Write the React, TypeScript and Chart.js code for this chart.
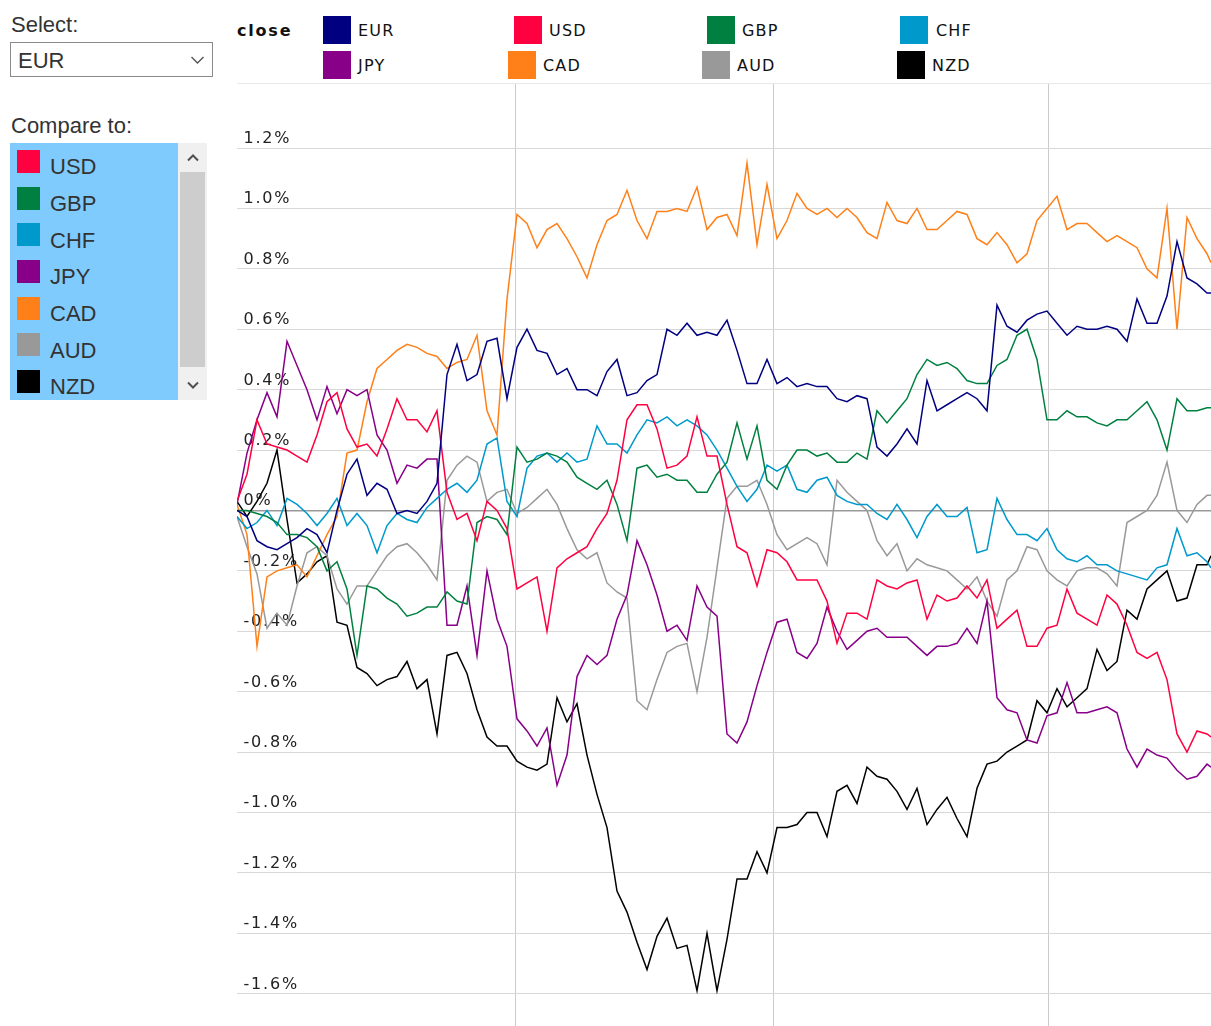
import React, { useEffect, useRef } from "react";
import { Chart, registerables } from "chart.js";

Chart.register(...registerables);

// ---------- data ----------
const timeSteps = [
  0, 10, 20, 30, 40, 50, 60, 70, 80, 90,
  100, 110, 120, 130, 140, 150, 160, 170, 180, 190,
  200, 210, 220, 230, 240, 250, 260, 270, 280, 290,
  300, 310, 320, 330, 340, 350, 360, 370, 380, 390,
  400, 410, 420, 430, 440, 450, 460, 470, 480, 490,
  500, 510, 520, 530, 540, 550, 560, 570, 580, 590,
  600, 610, 620, 630, 640, 650, 660, 670, 680, 690,
  700, 710, 720, 730, 740, 750, 760, 770, 780, 790,
  800, 810, 820, 830, 840, 850, 860, 870, 880, 890,
  900, 910, 920, 930, 940, 950, 960, 970, 974,
];

const eurValues = [
  0.0, -0.02, -0.1, -0.12, -0.13, -0.11, -0.09, -0.06, -0.08, -0.14,
  0.0, 0.12, 0.17, 0.05, 0.09, 0.07, -0.01, 0.0, -0.01, 0.03,
  0.09, 0.45, 0.55, 0.43, 0.45, 0.56, 0.57, 0.37, 0.54, 0.6,
  0.53, 0.52, 0.45, 0.47, 0.4, 0.4, 0.38, 0.46, 0.5, 0.38,
  0.39, 0.43, 0.45, 0.6, 0.58, 0.62, 0.58, 0.59, 0.58, 0.63,
  0.53, 0.42, 0.42, 0.5, 0.42, 0.44, 0.41, 0.42, 0.41, 0.41,
  0.37, 0.36, 0.38, 0.37, 0.21, 0.18, 0.22, 0.27, 0.22, 0.43,
  0.33, 0.35, 0.37, 0.39, 0.37, 0.33, 0.68, 0.61, 0.59, 0.63,
  0.65, 0.66, 0.62, 0.58, 0.61, 0.6, 0.6, 0.61, 0.6, 0.56,
  0.7, 0.62, 0.62, 0.71, 0.89, 0.77, 0.75, 0.72, 0.72,
];

const usdValues = [
  0.03, 0.12, 0.3, 0.22, 0.21, 0.2, 0.18, 0.16, 0.25, 0.36,
  0.39, 0.27, 0.21, 0.22, 0.18, 0.27, 0.37, 0.3, 0.3, 0.26,
  0.33, 0.06, -0.03, -0.01, -0.1, 0.03, 0.0, -0.06, -0.26, -0.24,
  -0.22, -0.4, -0.19, -0.16, -0.14, -0.12, -0.06, -0.01, 0.1, 0.3,
  0.35, 0.35, 0.27, 0.14, 0.15, 0.18, 0.31, 0.18, 0.18, 0.02,
  -0.12, -0.14, -0.25, -0.13, -0.14, -0.17, -0.23, -0.23, -0.23, -0.3,
  -0.44, -0.34, -0.34, -0.36, -0.23, -0.25, -0.26, -0.24, -0.23, -0.36,
  -0.28, -0.3, -0.29, -0.25, -0.29, -0.23, -0.39, -0.36, -0.33, -0.45,
  -0.45, -0.39, -0.38, -0.26, -0.34, -0.36, -0.38, -0.28, -0.31, -0.38,
  -0.47, -0.49, -0.47, -0.56, -0.74, -0.8, -0.73, -0.74, -0.75,
];

const gbpValues = [
  0.0, 0.0, -0.01, -0.02, -0.04, -0.08, -0.08, -0.09, -0.12, -0.2,
  -0.17, -0.26, -0.48, -0.25, -0.26, -0.29, -0.31, -0.35, -0.34, -0.32,
  -0.32, -0.27, -0.3, -0.31, -0.04, -0.02, -0.03, -0.08, 0.21, 0.16,
  0.17, 0.19, 0.18, 0.16, 0.11, 0.09, 0.07, 0.1, 0.02, -0.1,
  0.14, 0.15, 0.11, 0.12, 0.1, 0.1, 0.06, 0.06, 0.12, 0.16,
  0.29, 0.17, 0.28, 0.1, 0.07, 0.15, 0.2, 0.2, 0.18, 0.19,
  0.16, 0.16, 0.19, 0.17, 0.33, 0.29, 0.33, 0.37, 0.45, 0.5,
  0.48, 0.49, 0.47, 0.43, 0.42, 0.42, 0.48, 0.5, 0.58, 0.6,
  0.5, 0.3, 0.3, 0.33, 0.31, 0.31, 0.29, 0.28, 0.3, 0.3,
  0.33, 0.36, 0.3, 0.2, 0.37, 0.33, 0.33, 0.34, 0.34,
];

const chfValues = [
  -0.02, -0.06, -0.04, 0.0, -0.05, 0.04, 0.02, -0.01, -0.05, -0.01,
  0.04, -0.05, -0.01, -0.05, -0.14, -0.05, -0.01, -0.03, -0.04, 0.01,
  0.04, 0.07, 0.09, 0.06, 0.1, 0.22, 0.24, 0.03, -0.02, 0.14,
  0.18, 0.19, 0.16, 0.19, 0.16, 0.17, 0.28, 0.22, 0.22, 0.19,
  0.25, 0.3, 0.29, 0.31, 0.28, 0.3, 0.28, 0.25, 0.2, 0.14,
  0.08, 0.03, 0.07, 0.15, 0.13, 0.15, 0.07, 0.06, 0.1, 0.11,
  0.05, 0.03, 0.02, 0.02, -0.01, -0.03, 0.02, -0.03, -0.09, -0.02,
  0.02, -0.02, -0.02, 0.01, -0.14, -0.13, 0.04, -0.03, -0.08, -0.08,
  -0.1, -0.06, -0.13, -0.16, -0.17, -0.15, -0.18, -0.18, -0.2, -0.21,
  -0.22, -0.23, -0.19, -0.18, -0.06, -0.15, -0.14, -0.17, -0.19,
];

const jpyValues = [
  0.02, 0.19, 0.3, 0.39, 0.31, 0.56, 0.48, 0.4, 0.3, 0.41,
  0.32, 0.4, 0.38, 0.4, 0.25, 0.2, 0.09, 0.15, 0.14, 0.17,
  0.17, -0.38, -0.38, -0.25, -0.48, -0.2, -0.36, -0.45, -0.69, -0.73,
  -0.78, -0.72, -0.91, -0.81, -0.55, -0.48, -0.51, -0.48, -0.36, -0.28,
  -0.1, -0.18, -0.28, -0.4, -0.38, -0.43, -0.25, -0.32, -0.35, -0.74,
  -0.77, -0.7, -0.58, -0.47, -0.37, -0.36, -0.47, -0.49, -0.44, -0.32,
  -0.4, -0.46, -0.43, -0.4, -0.39, -0.42, -0.42, -0.42, -0.45, -0.48,
  -0.45, -0.45, -0.44, -0.39, -0.44, -0.3, -0.62, -0.66, -0.67, -0.76,
  -0.77, -0.68, -0.67, -0.57, -0.67, -0.67, -0.66, -0.65, -0.67, -0.79,
  -0.85, -0.79, -0.81, -0.82, -0.86, -0.89, -0.88, -0.84, -0.85,
];

const cadValues = [
  0.02, -0.08, -0.45, -0.22, -0.2, -0.19, -0.18, -0.22, -0.15, -0.08,
  -0.02, 0.19, 0.2, 0.36, 0.47, 0.5, 0.53, 0.55, 0.54, 0.52,
  0.51, 0.47, 0.49, 0.5, 0.58, 0.33, 0.25, 0.7, 0.98, 0.95,
  0.87, 0.93, 0.95, 0.9, 0.84, 0.77, 0.88, 0.96, 0.98, 1.06,
  0.96, 0.9, 0.99, 0.99, 1.0, 0.99, 1.07, 0.93, 0.97, 0.98,
  0.91, 1.15, 0.88, 1.08, 0.9, 0.96, 1.05, 1.0, 0.98, 1.0,
  0.97, 1.0, 0.97, 0.92, 0.9, 1.02, 0.96, 0.95, 1.0, 0.93,
  0.93, 0.96, 0.99, 0.98, 0.9, 0.88, 0.92, 0.88, 0.82, 0.85,
  0.96, 1.0, 1.04, 0.93, 0.95, 0.95, 0.92, 0.89, 0.91, 0.89,
  0.87, 0.8, 0.77, 1.0, 0.6, 0.97, 0.9, 0.85, 0.82,
];

const audValues = [
  -0.02, -0.12, -0.21, -0.39, -0.34, -0.38, -0.25, -0.14, -0.12, -0.15,
  -0.26, -0.31, -0.25, -0.25, -0.2, -0.15, -0.12, -0.11, -0.14, -0.18,
  -0.23, 0.1, 0.15, 0.18, 0.16, 0.03, 0.06, 0.07, -0.01, 0.01,
  0.04, 0.07, 0.02, -0.06, -0.13, -0.16, -0.14, -0.24, -0.27, -0.29,
  -0.63, -0.66, -0.56, -0.47, -0.45, -0.44, -0.6, -0.42, -0.19, 0.04,
  0.08, 0.08, 0.1, 0.02, -0.08, -0.13, -0.11, -0.09, -0.11, -0.18,
  0.1, 0.06, 0.03, 0.0, -0.1, -0.15, -0.11, -0.2, -0.16, -0.18,
  -0.19, -0.2, -0.23, -0.26, -0.22, -0.3, -0.35, -0.23, -0.2, -0.12,
  -0.13, -0.2, -0.23, -0.25, -0.2, -0.19, -0.19, -0.21, -0.25, -0.04,
  -0.02, 0.0, 0.05, 0.16, 0.0, -0.04, 0.02, 0.05, 0.05,
];

const nzdValues = [
  0.03, -0.02, 0.03, 0.09, 0.2, -0.03, -0.24, -0.21, -0.17, -0.15,
  -0.37, -0.38, -0.52, -0.54, -0.58, -0.56, -0.55, -0.5, -0.59, -0.56,
  -0.74, -0.48, -0.47, -0.54, -0.66, -0.75, -0.78, -0.78, -0.83, -0.85,
  -0.86, -0.84, -0.62, -0.7, -0.64, -0.81, -0.94, -1.05, -1.26, -1.33,
  -1.43, -1.52, -1.41, -1.35, -1.45, -1.44, -1.59, -1.4, -1.59, -1.42,
  -1.22, -1.22, -1.13, -1.2, -1.05, -1.05, -1.04, -1.0, -1.0, -1.08,
  -0.93, -0.91, -0.97, -0.85, -0.88, -0.89, -0.93, -0.99, -0.92, -1.04,
  -0.99, -0.95, -1.02, -1.08, -0.92, -0.84, -0.83, -0.8, -0.78, -0.76,
  -0.63, -0.67, -0.59, -0.65, -0.62, -0.59, -0.46, -0.53, -0.5, -0.33,
  -0.36, -0.26, -0.23, -0.2, -0.3, -0.29, -0.18, -0.18, -0.15,
];

const seriesNames = ["EUR", "USD", "GBP", "CHF", "JPY", "CAD", "AUD", "NZD"];
const seriesColors = ["#000080", "#ff0040", "#008040", "#0099cc", "#880088", "#ff8018", "#999999", "#000000"];
const seriesValues = [eurValues, usdValues, gbpValues, chfValues, jpyValues, cadValues, audValues, nzdValues];

const compareToNames = ["USD", "GBP", "CHF", "JPY", "CAD", "AUD", "NZD"];
const compareToColors = ["#ff0040", "#008040", "#0099cc", "#880088", "#ff8018", "#999999", "#000000"];

const yTickValues = [1.2, 1.0, 0.8, 0.6, 0.4, 0.2, 0, -0.2, -0.4, -0.6, -0.8, -1.0, -1.2, -1.4, -1.6];
const dayBreaks = [278, 536, 811];
const Y_MAX = 1.412;
const Y_MIN = -1.707;
const X_MAX = 974;

// legend layout: [name, swatchLeft, textLeft, row]
const legendItems: [string, number, number, number][] = [
  ["EUR", 323, 358, 0],
  ["USD", 514, 549, 0],
  ["GBP", 707, 742, 0],
  ["CHF", 900, 936, 0],
  ["JPY", 323, 358, 1],
  ["CAD", 508, 543, 1],
  ["AUD", 702, 737, 1],
  ["NZD", 897, 932, 1],
];

const CHART_FONT = '"DejaVu Sans", Verdana, sans-serif';
const UI_FONT = '"Liberation Sans", Arial, sans-serif';

function formatPct(v: number) {
  return v === 0 ? "0%" : v.toFixed(1) + "%";
}

const yLabelPlugin = {
  id: "mirrorYLabels",
  beforeDatasetsDraw(chart: any) {
    const { ctx, chartArea, scales } = chart;
    const y = scales.y;
    ctx.save();
    ctx.font = "16px " + CHART_FONT;
    try {
      (ctx as any).letterSpacing = "1.8px";
    } catch (e) {}
    ctx.fillStyle = "#222222";
    ctx.textAlign = "left";
    ctx.textBaseline = "alphabetic";
    for (const v of yTickValues) {
      const py = y.getPixelForValue(v);
      ctx.fillText(formatPct(v), chartArea.left + 6.5, py - 5);
    }
    ctx.restore();
  },
};

function colorFor(name: string) {
  return seriesColors[seriesNames.indexOf(name)];
}

export default function App() {
  const canvasRef = useRef<HTMLCanvasElement>(null);

  useEffect(() => {
    const canvas = canvasRef.current;
    if (!canvas) return;
    const chart = new Chart(canvas, {
      type: "line",
      data: {
        datasets: seriesNames.map((name, i) => ({
          label: name,
          data: timeSteps.map((t, j) => ({ x: t, y: seriesValues[i][j] })),
          borderColor: seriesColors[i],
          backgroundColor: seriesColors[i],
          borderWidth: 1.5,
          pointRadius: 0,
          tension: 0,
          fill: false,
        })),
      },
      options: {
        animation: false,
        responsive: false,
        maintainAspectRatio: false,
        events: [],
        layout: { padding: 0 },
        plugins: {
          legend: { display: false },
          tooltip: { enabled: false },
          title: { display: false },
        },
        scales: {
          x: {
            type: "linear",
            min: 0,
            max: X_MAX,
            afterBuildTicks: (s: any) => {
              s.ticks = dayBreaks.map((v) => ({ value: v }));
            },
            afterFit: (s: any) => {
              s.height = 0;
            },
            ticks: { display: false },
            grid: { color: "#cccccc", lineWidth: 1, drawTicks: false },
            border: { display: false },
          },
          y: {
            type: "linear",
            min: Y_MIN,
            max: Y_MAX,
            afterBuildTicks: (s: any) => {
              s.ticks = yTickValues.map((v) => ({ value: v }));
            },
            afterFit: (s: any) => {
              s.width = 0;
            },
            ticks: { display: false },
            grid: {
              color: (c: any) => (c.tick && c.tick.value === 0 ? "#999999" : "#d8d8d8"),
              lineWidth: (c: any) => (c.tick && c.tick.value === 0 ? 1.5 : 1),
              drawTicks: false,
            },
            border: { display: false },
          },
        },
      },
      plugins: [yLabelPlugin],
    } as any);
    return () => chart.destroy();
  }, []);

  const abs = (style: React.CSSProperties): React.CSSProperties => ({ position: "absolute", ...style });

  return (
    <div
      style={{
        position: "fixed",
        left: 0,
        top: 0,
        width: 1211,
        height: 1026,
        overflow: "hidden",
        background: "#ffffff",
      }}
    >
      {/* left panel */}
      <div style={abs({ left: 11, top: 33 - 18.6, fontFamily: UI_FONT, fontSize: 22, lineHeight: "22px", color: "#333" })}>
        Select:
      </div>
      <div
        style={abs({
          left: 10,
          top: 42,
          width: 201,
          height: 33,
          border: "1px solid #8a8a8a",
          background: "#fff",
        })}
      />
      <div style={abs({ left: 18, top: 68.3 - 18.6, fontFamily: UI_FONT, fontSize: 22, lineHeight: "22px", color: "#333" })}>
        EUR
      </div>
      <svg style={abs({ left: 190, top: 55 })} width={15} height={10}>
        <polyline points="1.5,2 7.5,8 13.5,2" fill="none" stroke="#555" strokeWidth={1.4} />
      </svg>

      <div style={abs({ left: 11, top: 133.3 - 18.6, fontFamily: UI_FONT, fontSize: 22, lineHeight: "22px", color: "#333" })}>
        Compare to:
      </div>
      <div style={abs({ left: 10, top: 143, width: 168, height: 257, background: "#80cbfd" })} />
      <div style={abs({ left: 178, top: 143, width: 29, height: 257, background: "#f0f0f0" })} />
      <div style={abs({ left: 180, top: 172, width: 25, height: 195, background: "#cdcdcd" })} />
      <svg style={abs({ left: 186, top: 153 })} width={14} height={10}>
        <polyline points="2,7.5 7,2.5 12,7.5" fill="none" stroke="#505050" strokeWidth={2} />
      </svg>
      <svg style={abs({ left: 186, top: 380 })} width={14} height={10}>
        <polyline points="2,2.5 7,7.5 12,2.5" fill="none" stroke="#505050" strokeWidth={2} />
      </svg>
      {compareToNames.map((name, i) => (
        <React.Fragment key={name}>
          <div
            style={abs({
              left: 17,
              top: 150 + i * 36.67,
              width: 23,
              height: 23,
              background: compareToColors[i],
            })}
          />
          <div
            style={abs({
              left: 50,
              top: 175 + i * 36.67 - 18.6,
              fontFamily: UI_FONT,
              fontSize: 22,
              lineHeight: "22px",
              color: "#333",
            })}
          >
            {name}
          </div>
        </React.Fragment>
      ))}

      {/* legend */}
      <div
        style={abs({
          left: 237,
          top: 36.7 - 13.5,
          fontFamily: CHART_FONT,
          fontSize: 16,
          lineHeight: "16px",
          fontWeight: "bold",
          letterSpacing: "1.8px",
          color: "#111",
        })}
      >
        close
      </div>
      {legendItems.map(([name, sx, tx, row]) => (
        <React.Fragment key={"lg" + name}>
          <div
            style={abs({
              left: sx,
              top: row === 0 ? 16 : 51,
              width: 28,
              height: 28,
              background: colorFor(name),
            })}
          />
          <div
            style={abs({
              left: tx,
              top: (row === 0 ? 36.7 : 71.7) - 13.5,
              fontFamily: CHART_FONT,
              fontSize: 16,
              lineHeight: "16px",
              letterSpacing: "1.2px",
              color: "#111",
            })}
          >
            {name}
          </div>
        </React.Fragment>
      ))}
      <div style={abs({ left: 237, top: 83, width: 974, height: 1, background: "#e8e8e8" })} />

      {/* chart */}
      <div style={abs({ left: 237, top: 84, width: 974, height: 942 })}>
        <canvas ref={canvasRef} width={974} height={942} style={{ display: "block", width: 974, height: 942 }} />
      </div>
    </div>
  );
}
